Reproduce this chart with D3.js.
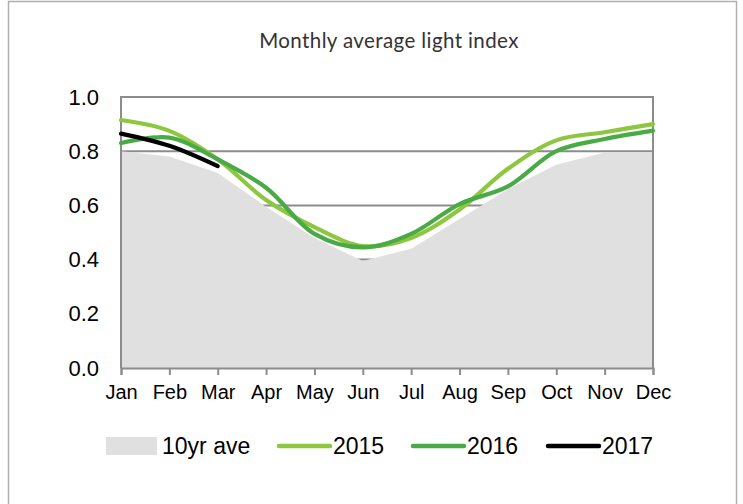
<!DOCTYPE html>
<html>
<head>
<meta charset="utf-8">
<script src="https://cdn.jsdelivr.net/npm/d3@7"></script>
<style>
  html, body { margin: 0; padding: 0; background: #fff; }
  svg { display: block; }
</style>
</head>
<body>
<svg id="chart" width="743" height="504"></svg>
<script>
const months = ["Jan","Feb","Mar","Apr","May","Jun","Jul","Aug","Sep","Oct","Nov","Dec"];
const yTicks = [0, 0.2, 0.4, 0.6, 0.8, 1.0];
const avg10yr = [0.80, 0.78, 0.72, 0.595, 0.48, 0.395, 0.44, 0.55, 0.66, 0.75, 0.795, 0.795];
const y2015 = [0.915, 0.875, 0.77, 0.62, 0.52, 0.45, 0.48, 0.585, 0.735, 0.84, 0.87, 0.90];
const y2016 = [0.83, 0.85, 0.77, 0.665, 0.495, 0.445, 0.495, 0.605, 0.67, 0.80, 0.845, 0.876];
const y2017 = [0.865, 0.82, 0.745];
const seriesNames = ["10yr ave", "2015", "2016", "2017"];
const title = "Monthly average light index";

const svg = d3.select("#chart");
const L = 121, R = 653, T = 97, B = 368;
const x = d3.scalePoint().domain(months).range([L, R]).padding(0);
const y = d3.scaleLinear().domain([0, 1]).range([B, T]);
const gridCol = "#8c8c8c";

// outer frame
svg.append("rect").attr("x", 8.5).attr("y", 1.5).attr("width", 728).attr("height", 520)
  .attr("fill", "none").attr("stroke", "#b0b0b0").attr("stroke-width", 1.5);

// title
svg.append("text").attr("x", 389).attr("y", 48).attr("text-anchor", "middle")
  .attr("font-family", "Lato, 'Open Sans', sans-serif").attr("font-size", 20.5)
  .attr("letter-spacing", 0.4)
  .attr("fill", "#333").text(title);

// gridlines
svg.append("g").selectAll("line").data(yTicks.filter(d => d > 0)).join("line")
  .attr("x1", L).attr("x2", R).attr("y1", d => y(d)).attr("y2", d => y(d))
  .attr("stroke", gridCol).attr("stroke-width", 2);

// area
const area = d3.area().x((d, i) => x(months[i])).y0(y(0)).y1(d => y(d));
svg.append("path").datum(avg10yr).attr("d", area).attr("fill", "#e0e0e0");

// plot border left/right
svg.append("line").attr("x1", L).attr("x2", L).attr("y1", T - 1).attr("y2", B)
  .attr("stroke", gridCol).attr("stroke-width", 2);
svg.append("line").attr("x1", R).attr("x2", R).attr("y1", T - 1).attr("y2", B)
  .attr("stroke", gridCol).attr("stroke-width", 2);

// x axis
const xAxis = d3.axisBottom(x).tickSize(7).tickPadding(10);
const gx = svg.append("g").attr("transform", `translate(0,${B})`).call(xAxis);
gx.select(".domain").attr("stroke", gridCol).attr("stroke-width", 2);
gx.selectAll(".tick line").attr("stroke", gridCol).attr("stroke-width", 2);
gx.selectAll(".tick text").attr("font-family", "'Liberation Sans', Arial, sans-serif")
  .attr("font-size", 20).attr("fill", "#000");

// y axis labels
const yAxis = d3.axisLeft(y).tickValues(yTicks).tickFormat(d3.format(".1f")).tickSize(0).tickPadding(22);
const gy = svg.append("g").attr("transform", `translate(${L},0)`).call(yAxis);
gy.select(".domain").remove();
gy.selectAll(".tick text").attr("font-family", "'Liberation Sans', Arial, sans-serif")
  .attr("font-size", 22).attr("fill", "#000");

// lines
const line = d3.line().x((d, i) => x(months[i])).y(d => y(d)).curve(d3.curveCatmullRom.alpha(0.5));
const seriesData = [
  { vals: y2015, color: "#8dc63f" },
  { vals: y2016, color: "#4aab46" },
  { vals: y2017, color: "#000000" }
];
seriesData.forEach(s => {
  svg.append("path").datum(s.vals).attr("d", line).attr("fill", "none")
    .attr("stroke", s.color).attr("stroke-width", 4.2).attr("stroke-linecap", "round");
});

// legend
const lg = svg.append("g").attr("font-family", "'Liberation Sans', Arial, sans-serif").attr("font-size", 23);
const legendY = 446;
lg.append("rect").attr("x", 106).attr("y", legendY - 9).attr("width", 51).attr("height", 18).attr("fill", "#e0e0e0");
lg.append("text").attr("x", 162).attr("y", legendY + 8).text(seriesNames[0]);
const lineItems = [
  { name: seriesNames[1], color: "#8dc63f", x0: 279 },
  { name: seriesNames[2], color: "#4aab46", x0: 413 },
  { name: seriesNames[3], color: "#000000", x0: 548 }
];
lineItems.forEach(it => {
  lg.append("line").attr("x1", it.x0).attr("x2", it.x0 + 51).attr("y1", legendY).attr("y2", legendY)
    .attr("stroke", it.color).attr("stroke-width", 4.5).attr("stroke-linecap", "round");
  lg.append("text").attr("x", it.x0 + 54).attr("y", legendY + 8).text(it.name);
});
</script>
</body>
</html>
